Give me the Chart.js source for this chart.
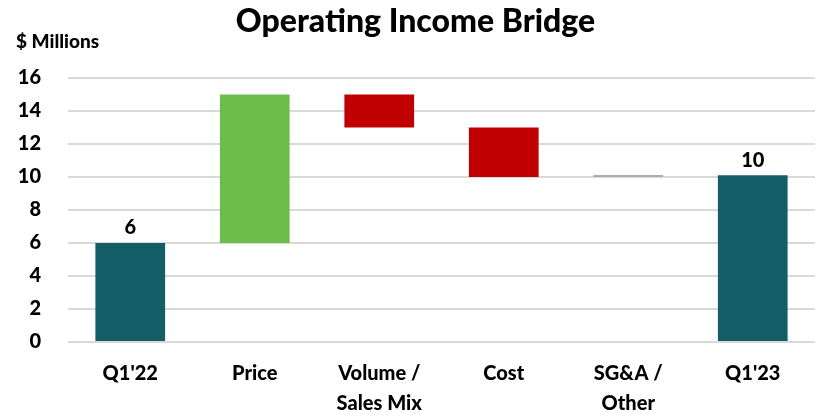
<!DOCTYPE html>
<html>
<head>
<meta charset="utf-8">
<script src="https://cdn.jsdelivr.net/npm/chart.js@4"></script>
<style>
html,body{margin:0;padding:0;background:#fff;}
#wrap{width:819px;height:416px;position:relative;}
</style>
</head>
<body>
<div id="wrap"><canvas id="c" width="819" height="416"></canvas></div>
<script>
const titleText = "Operating Income Bridge";
const unitText = "$ Millions";
const categories = [["Q1'22"], ["Price"], ["Volume /", "Sales Mix"], ["Cost"], ["SG&A /", "Other"], ["Q1'23"]];
const barStart = [0, 6, 15, 13, 10, 0];
const barEnd = [6, 15, 13, 10, 10.1, 10.1];
const valueLabels = ["6", "", "", "", "", "10"];
const barColors = ["#135E66", "#6CBE4A", "#C00000", "#C00000", "#A6AEBB", "#135E66"];
const yTicks = [0, 2, 4, 6, 8, 10, 12, 14, 16];

const FONT = "Lato, 'Liberation Sans', sans-serif";

const floating = categories.map((c, i) => [barStart[i], barEnd[i]]);

const textPlugin = {
  id: 'textPlugin',
  afterDatasetsDraw(chart) {
    const ctx = chart.ctx;
    ctx.save();
    ctx.fillStyle = '#000';
    ctx.textAlign = 'center';
    ctx.textBaseline = 'bottom';
    ctx.font = "900 20px " + FONT;
    const meta = chart.getDatasetMeta(0);
    meta.data.forEach((bar, i) => {
      if (valueLabels[i]) {
        const top = Math.min(bar.y, bar.base);
        ctx.fillText(valueLabels[i], bar.x, top - 5);
      }
    });
    ctx.font = "900 32px " + FONT;
    ctx.textBaseline = 'alphabetic';
    ctx.fillText(titleText, chart.width / 2 + 6, 32);
    ctx.textAlign = 'left';
    ctx.font = "900 19px " + FONT;
    ctx.fillText(unitText, 16, 48);
    ctx.restore();
  }
};

new Chart(document.getElementById('c'), {
  type: 'bar',
  data: {
    labels: categories,
    datasets: [{
      data: floating,
      backgroundColor: barColors,
      borderWidth: 0,
      borderSkipped: false,
      barPercentage: 0.56,
      categoryPercentage: 1.0,
      minBarLength: 2
    }]
  },
  options: {
    responsive: false,
    animation: false,
    devicePixelRatio: 1,
    layout: { padding: { top: 78, right: 4, left: 0, bottom: 0 } },
    plugins: { legend: { display: false }, tooltip: { enabled: false }, title: { display: false } },
    scales: {
      x: {
        grid: { display: false, drawTicks: false },
        border: { display: false },
        ticks: { color: '#000', font: { family: FONT, size: 20, weight: '900', lineHeight: 1.5 }, padding: 17, maxRotation: 0, autoSkip: false },
        afterFit(scale) { scale.height = 74; }
      },
      y: {
        min: 0, max: 16,
        afterBuildTicks(scale) { scale.ticks = yTicks.map(v => ({ value: v })); },
        grid: { color: '#D9D9D9', lineWidth: 2, drawTicks: false },
        border: { display: false },
        ticks: { color: '#000', font: { family: FONT, size: 20, weight: '900' }, padding: 27 },
        afterFit(scale) { scale.width = 68; }
      }
    }
  },
  plugins: [textPlugin]
});
</script>
</body>
</html>
